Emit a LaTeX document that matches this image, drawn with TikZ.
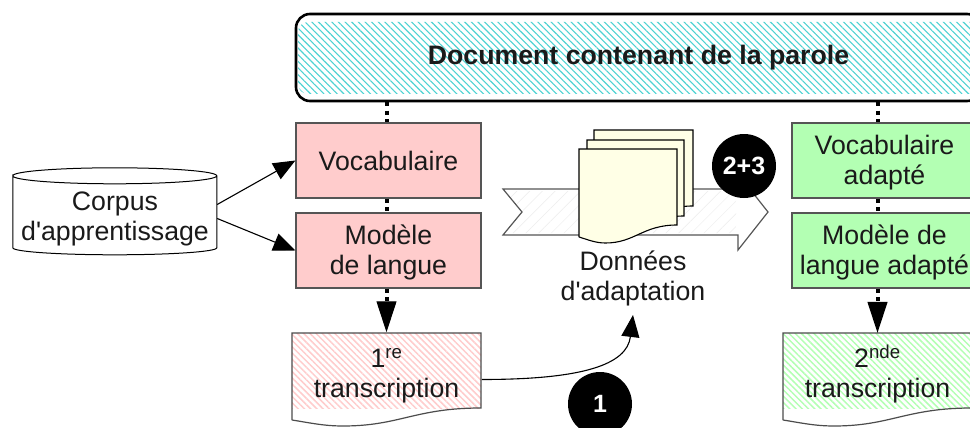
\documentclass[tikz,border=0pt]{standalone}
\usepackage{fontspec}
\setmainfont{Liberation Sans}
\usetikzlibrary{arrows.meta,positioning,patterns.meta}

\definecolor{boxred}{HTML}{FFCCCC}
\definecolor{boxgreen}{HTML}{B3FFB3}
\definecolor{hatchcyan}{HTML}{4DD2D2}
\definecolor{pagecream}{HTML}{FFFFE6}
\definecolor{edgegray}{HTML}{555555}
\definecolor{textdark}{HTML}{1A1A1A}

% page with a wavy foot: style, left, top, right, bottom of the right edge
\newcommand{\wavepage}[5]{%
  \pgfmathsetmacro{\pagew}{#4-#2}
  \draw[#1] (#2,#5+12) -- (#2,#3) -- (#4,#3) -- (#4,#5)
    .. controls +(-0.35*\pagew,0) and +(0.3*\pagew,0) .. ({#4-0.73*\pagew},#5+18)
    .. controls +(-0.1*\pagew,0) and +(0.1*\pagew,3) .. (#2,#5+12);
}

\begin{document}
\begin{tikzpicture}[x=1pt,y=-1pt,>={Triangle[length=22pt,width=18pt]},
  every node/.style={font=\fontsize{26.7}{30}\selectfont,text=textdark,align=center},
  modelbox/.style={draw=edgegray,line width=1.2pt,minimum width=185pt,minimum height=75pt,inner sep=0pt},
  redbox/.style={modelbox,fill=boxred},
  greenbox/.style={modelbox,fill=boxgreen},
  twolines/.style={text height=54pt},
  hatchtext/.style={minimum width=189pt,minimum height=75pt,inner sep=0pt,text height=60pt,
    pattern={Lines[angle=-45,distance=4.4pt,line width=1.5pt]}},
  badge/.style={circle,fill=black,minimum size=64pt,inner sep=0pt,
    font=\fontsize{25}{30}\selectfont\bfseries,text=white},
  dots/.style={line width=4pt,dash pattern=on 4pt off 4.3pt},
  link/.style={->,draw=black,line width=1.1pt},
  droplink/.style={-{Triangle[length=31pt,width=20pt]},draw=black,line width=1.1pt},
  page/.style={draw=black,line width=1.1pt,fill=pagecream},
  footline/.style={draw=black!70,line width=1.2pt}]

\useasboundingbox (0,0) rectangle (970,428);

% top box
\path[pattern={Lines[angle=-45,distance=4.7pt,line width=1.1pt]},pattern color=hatchcyan,rounded corners=10pt]
  (298,22) rectangle (985,94);
\node[draw=black,line width=2.6pt,rounded corners=14pt,minimum width=685pt,minimum height=87pt,
  inner sep=0pt,font=\fontsize{26.7}{30}\selectfont\bfseries] (parole) at (638.5,57.5) {Document contenant de la parole};

% left column
\node[redbox] (vocab) at (388.5,160.5) {Vocabulaire};
\node[redbox,twolines] (modele) at (388.5,250.5) {Modèle\\de langue};
\node[hatchtext,pattern color=boxred] (trans1) at (386.5,370.5) {1\textsuperscript{re}\\transcription};

% right column
\node[greenbox,twolines] (vocabad) at (884.5,160.5) {Vocabulaire\\adapté};
\node[greenbox,twolines] (modelead) at (884.5,250.5) {Modèle de\\langue adapté};
\node[hatchtext,pattern color=boxgreen] (trans2) at (877.5,370.5) {2\textsuperscript{nde}\\transcription};

% corpus
\node[minimum width=204pt,minimum height=87pt,inner sep=0pt] (corpus) at (115,211.5) {};
\node[yshift=-7pt] (corpustext) at (corpus) {Corpus\\d\textquotesingle apprentissage};
\draw[line width=1pt] (corpus.north west) ++(0,8) arc[start angle=180,end angle=540,x radius=102,y radius=8]
  -- ++(0,72) arc[start angle=180,end angle=0,x radius=102,y radius=7] -- ++(0,-72);

% banner and pages
\draw[draw=edgegray,line width=1.2pt,fill=white] (503,189) -- (738,189) -- (738,174) -- (768,212)
  -- (738,250) -- (738,235) -- (503,235) -- (522,212) -- cycle;
\path[pattern={Lines[angle=45,distance=9pt,line width=0.5pt]},pattern color=black!7]
  (506,191) -- (736,191) -- (736,233) -- (506,233) -- (524,212) -- cycle;
\wavepage{page}{594}{130}{693}{206}
\wavepage{page}{587}{140}{684}{216}
\wavepage{page}{579}{149}{677}{225}
\node (donnees) at (633,278) {Données\\d\textquotesingle adaptation};
\coordinate (donneesfoot) at (633,315);

\wavepage{footline}{292}{333}{481}{408}
\wavepage{footline}{783}{333}{972}{408}

% links
\draw[link] ([yshift=7pt]corpus.east) -- (vocab.west);
\draw[link] ([yshift=-7pt]corpus.east) -- (modele.west);
\draw[dots] (parole.south -| trans1) -- (vocab.north -| trans1);
\draw[dots] (vocab.south -| trans1) -- (modele.north -| trans1);
\draw[dots] (modele.south -| trans1) -- ++(0,20);
\draw[droplink] (modele.south -| trans1) ++(0,14) -- (trans1.north);
\draw[dots] (parole.south -| trans2) -- (vocabad.north -| trans2);
\draw[dots] (vocabad.south -| trans2) -- (modelead.north -| trans2);
\draw[dots] (modelead.south -| trans2) -- ++(0,20);
\draw[droplink] (modelead.south -| trans2) ++(0,14) -- (trans2.north);
\draw[link] (trans1.east) ++(0,9) .. controls +(100,0) and +(-6,50) .. (donneesfoot);

\node[badge] (adapt) at (744,166) {2+3};
\node[badge] (first) at (600,404) {1};

\end{tikzpicture}
\end{document}
